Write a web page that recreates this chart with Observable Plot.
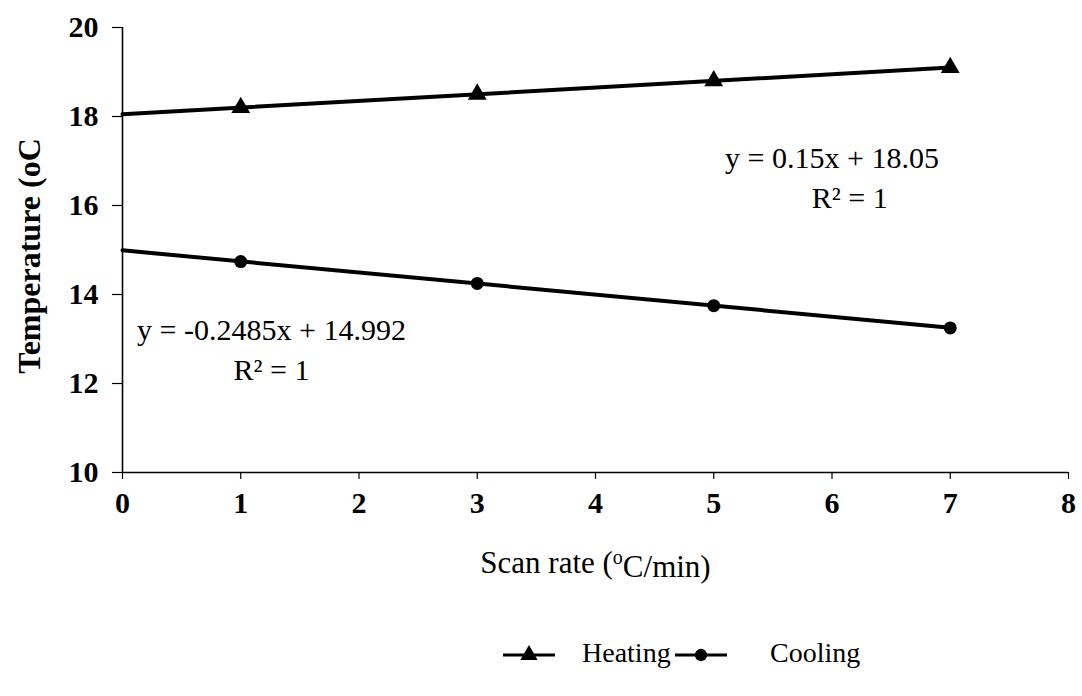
<!DOCTYPE html>
<html><head><meta charset="utf-8">
<script src="https://cdn.jsdelivr.net/npm/d3@7"></script>
<script src="https://cdn.jsdelivr.net/npm/@observablehq/plot@0.6"></script>
<style>
html,body{margin:0;padding:0;background:#fff;}
#chart{width:1082px;height:696px;position:relative;font-family:"Liberation Serif","Times New Roman",serif;color:#000;}
#legend{position:relative;height:86px;font-size:28px;}
#legend .sym{position:absolute;top:35px;}
#legend .lbl{position:absolute;top:27px;line-height:32px;}
</style></head><body><div id="chart"></div>
<script>
// ---- data ----
const scanRates = [1, 3, 5, 7];
const heating = [18.2, 18.5, 18.8, 19.1];
const cooling = [14.74, 14.25, 13.75, 13.25];
const seriesNames = ["Heating", "Cooling"];
const trendX = [0, 7];
const heatingSlope = 0.15, heatingIntercept = 18.05;
const coolingSlope = -0.2485, coolingIntercept = 14.992;
const xTicks = [0, 1, 2, 3, 4, 5, 6, 7, 8];
const yTicks = [10, 12, 14, 16, 18, 20];
const eqLabels = ["y = 0.15x + 18.05", "R² = 1", "y = -0.2485x + 14.992", "R² = 1"];
const eqX = [6.0, 6.15, 1.26, 1.26];
const eqY = [17.05, 16.15, 13.2, 12.3];
const xLabel = "Scan rate (oC/min)";
const yLabel = "Temperature (oC";

// ---- derived tables ----
const points = [
  ...scanRates.map((x, i) => ({x, y: heating[i], series: seriesNames[0]})),
  ...scanRates.map((x, i) => ({x, y: cooling[i], series: seriesNames[1]}))
];
const trend = [
  ...trendX.map(x => ({x, y: heatingSlope * x + heatingIntercept, series: seriesNames[0]})),
  ...trendX.map(x => ({x, y: coolingSlope * x + coolingIntercept, series: seriesNames[1]}))
];
const eqs = eqLabels.map((t, i) => ({t, x: eqX[i], y: eqY[i]}));

const font = "Liberation Serif, Times New Roman, serif";
const plot = Plot.plot({
  width: 1082,
  height: 610,
  marginLeft: 122,
  marginRight: 14,
  marginTop: 27,
  marginBottom: 138,
  style: {fontFamily: font, color: "#000", background: "#fff"},
  x: {domain: [0, 8]},
  y: {domain: [10, 20]},
  marks: [
    Plot.axisX({ticks: xTicks, tickSize: 7, tickPadding: 12, fontSize: 30, fontWeight: "bold", label: null, strokeWidth: 1.2}),
    Plot.axisY({ticks: yTicks, tickSize: 10, tickPadding: 14, fontSize: 30, fontWeight: "bold", label: null, strokeWidth: 1.2}),
    Plot.ruleX([0], {stroke: "#000", strokeWidth: 1.6}),
    Plot.ruleY([10], {stroke: "#000", strokeWidth: 1.6}),
    Plot.line(trend, {x: "x", y: "y", z: "series", stroke: "#000", strokeWidth: 4}),
    Plot.dot(points.filter(d => d.series === seriesNames[0]), {x: "x", y: "y", symbol: "triangle", r: 7, fill: "#000"}),
    Plot.dot(points.filter(d => d.series === seriesNames[1]), {x: "x", y: "y", symbol: "circle", r: 6.5, fill: "#000"}),
    Plot.text(eqs, {x: "x", y: "y", text: "t", fontSize: 30, fill: "#000"}),
    Plot.text([yLabel], {frameAnchor: "left", textAnchor: "middle", rotate: -90, dx: -93, dy: 6, fontSize: 32, fontWeight: "bold", fill: "#000"}),
    Plot.text([xLabel], {frameAnchor: "bottom", dy: 100, fontSize: 31, fill: "#000"})
  ]
});

// superscript "o" in the x label
d3.select(plot).selectAll("text").filter(function() { return this.textContent === xLabel; }).each(function() {
  const t = d3.select(this);
  t.text(null);
  t.append("tspan").text("Scan rate (");
  t.append("tspan").attr("dy", "-0.45em").attr("font-size", "20px").text("o");
  t.append("tspan").attr("dy", "0.45em").text("C/min)");
});

document.getElementById("chart").appendChild(plot);

// legend
const legend = d3.select("#chart").append("div").attr("id", "legend");
function item(name, symbol, symLeft, lblLeft) {
  const s = legend.append("svg").attr("class", "sym").attr("width", 52).attr("height", 20).style("left", symLeft + "px");
  s.append("line").attr("x1", 0).attr("x2", 52).attr("y1", 10).attr("y2", 10).attr("stroke", "#000").attr("stroke-width", 3);
  s.append("path").attr("transform", "translate(26,10)").attr("d", d3.symbol(symbol, symbol === d3.symbolCircle ? 120 : 130)()).attr("fill", "#000");
  legend.append("span").attr("class", "lbl").text(name).style("left", lblLeft + "px");
}
item(seriesNames[0], d3.symbolTriangle, 503, 582);
item(seriesNames[1], d3.symbolCircle, 675, 770);
</script></body></html>
